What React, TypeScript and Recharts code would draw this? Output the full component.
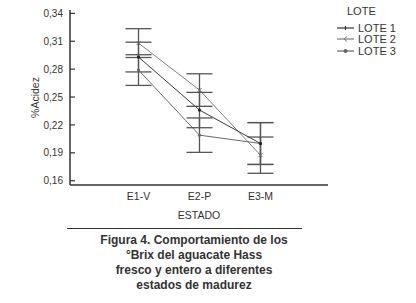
import React from 'react';
import { LineChart, Line, XAxis, YAxis, ErrorBar } from 'recharts';

const categories = ['E1-V', 'E2-P', 'E3-M'];
const lote1 = [0.293, 0.236, 0.2];
const lote2 = [0.308, 0.2575, 0.1875];
const lote3 = [0.279, 0.209, 0.2];
const err1 = [0.016, 0.019, 0.0225];
const err2 = [0.0155, 0.0175, 0.0195];
const err3 = [0.0165, 0.0185, 0.0225];
const yTicks = [0.16, 0.19, 0.22, 0.25, 0.28, 0.31, 0.34];
const captionLines = [
    'Figura 4. Comportamiento de los',
    '°Brix del aguacate Hass',
    'fresco y entero a diferentes',
    'estados de madurez',
];

const data = categories.map((c, i) => ({
    x: i,
    l1: lote1[i],
    l2: lote2[i],
    l3: lote3[i],
    e1: err1[i],
    e2: err2[i],
    e3: err3[i],
}));

const xDomain = [-1.123, 3.107];
const yDomain = [0.1554, 0.3436];
const font = 'Arial, "Liberation Sans", sans-serif';
const axisColor = '#333';

const YTick = (props: any) => {
    const { x, y, payload } = props;
    return (
        <g>
            <line x1={x + 6} x2={x + 11} y1={y} y2={y} stroke={axisColor} strokeWidth={1.2} />
            <text x={x - 1} y={y} dy="0.36em" textAnchor="end" fontSize={10} fill="#333" fontFamily={font}>
                {payload.value.toFixed(2).replace('.', ',')}
            </text>
        </g>
    );
};

const DotPlus = (props: any) => {
    const { cx, cy } = props;
    if (cx == null || cy == null) return null;
    return <circle cx={cx} cy={cy} r={1.6} fill="#222" stroke="none" />;
};

const DotX = (props: any) => {
    const { cx, cy } = props;
    if (cx == null || cy == null) return null;
    return (
        <g stroke="#666" strokeWidth={1}>
            <line x1={cx - 2} x2={cx + 2} y1={cy - 2} y2={cy + 2} />
            <line x1={cx - 2} x2={cx + 2} y1={cy + 2} y2={cy - 2} />
        </g>
    );
};

const DotO = (props: any) => {
    const { cx, cy } = props;
    if (cx == null || cy == null) return null;
    return <circle cx={cx} cy={cy} r={1.6} fill="#666" stroke="none" />;
};

const legendItems = [
    { name: 'LOTE 1', color: '#333', mark: 'dot' },
    { name: 'LOTE 2', color: '#777', mark: 'arrow' },
    { name: 'LOTE 3', color: '#666', mark: 'circle' },
];

export default function App() {
    return (
        <div style={{ position: 'relative', width: 416, height: 303, background: '#fff', fontFamily: font }}>
            <style>{'body{margin:0}'}</style>
            <LineChart width={416} height={240} data={data} margin={{ top: 10, right: 88, bottom: 15, left: 0 }}>
                <XAxis
                    dataKey="x"
                    type="number"
                    domain={xDomain}
                    ticks={[0, 1, 2]}
                    tickFormatter={(v: number) => categories[v]}
                    allowDataOverflow
                    height={40}
                    tickLine={false}
                    tickSize={0}
                    tickMargin={8}
                    stroke={axisColor}
                    strokeWidth={1.5}
                    tick={{ fill: '#333', fontSize: 10.5, fontFamily: font }}
                    label={{ value: 'ESTADO', position: 'insideBottom', offset: 6, fill: '#333', fontSize: 10.5, fontFamily: font }}
                />
                <XAxis
                    xAxisId="top"
                    orientation="top"
                    type="number"
                    domain={xDomain}
                    allowDataOverflow
                    height={0}
                    tick={false}
                    tickLine={false}
                    stroke={axisColor}
                    strokeWidth={1.5}
                />
                <YAxis
                    type="number"
                    domain={yDomain}
                    ticks={yTicks}
                    allowDataOverflow
                    width={70}
                    tickLine={false}
                    tickSize={0}
                    tickMargin={6}
                    stroke={axisColor}
                    strokeWidth={1.5}
                    tick={<YTick />}
                    label={{
                        value: '%Acidez',
                        angle: -90,
                        position: 'insideLeft',
                        offset: 35,
                        fill: '#333',
                        fontSize: 10.5,
                        fontFamily: font,
                        style: { textAnchor: 'middle' },
                    }}
                />
                <YAxis
                    yAxisId="right"
                    orientation="right"
                    type="number"
                    domain={yDomain}
                    ticks={yTicks}
                    allowDataOverflow
                    width={0}
                    mirror
                    tick={false}
                    tickSize={5}
                    stroke={axisColor}
                    strokeWidth={1.2}
                />
                <Line dataKey="l2" stroke="#808080" strokeWidth={1} dot={<DotX />} isAnimationActive={false}>
                    <ErrorBar dataKey="e2" width={13} stroke="#555" strokeWidth={1.3} direction="y" isAnimationActive={false} />
                </Line>
                <Line dataKey="l3" stroke="#6a6a6a" strokeWidth={1} dot={<DotO />} isAnimationActive={false}>
                    <ErrorBar dataKey="e3" width={13} stroke="#555" strokeWidth={1.3} direction="y" isAnimationActive={false} />
                </Line>
                <Line dataKey="l1" stroke="#3a3a3a" strokeWidth={1} dot={<DotPlus />} isAnimationActive={false}>
                    <ErrorBar dataKey="e1" width={13} stroke="#555" strokeWidth={1.3} direction="y" isAnimationActive={false} />
                </Line>
            </LineChart>

            <div style={{ position: 'absolute', left: 347, top: 5, fontSize: 11, color: '#333', lineHeight: '13px' }}>LOTE</div>
            {legendItems.map((it, i) => (
                <div
                    key={it.name}
                    style={{
                        position: 'absolute',
                        left: 337,
                        top: 21.5 + i * 11.7,
                        fontSize: 11,
                        color: '#333',
                        lineHeight: '12px',
                        display: 'flex',
                        alignItems: 'center',
                    }}
                >
                    <svg width={18} height={12} style={{ marginRight: 3 }}>
                        <line x1={0} x2={17} y1={6} y2={6} stroke={it.color} strokeWidth={1.2} />
                        {it.mark === 'dot' && <line x1={8.5} x2={8.5} y1={4} y2={8} stroke={it.color} strokeWidth={1.2} />}
                        {it.mark === 'arrow' && <polyline points="10,3.5 7,6 10,8.5" fill="none" stroke={it.color} strokeWidth={1} />}
                        {it.mark === 'circle' && <circle cx={8.5} cy={6} r={2} fill={it.color} />}
                    </svg>
                    <span>{it.name}</span>
                </div>
            ))}

            <div style={{ position: 'absolute', left: 67, top: 228, width: 235, height: 0, borderTop: '1.5px solid #333' }} />
            <div
                style={{
                    position: 'absolute',
                    left: 94,
                    top: 233,
                    width: 200,
                    textAlign: 'center',
                    fontWeight: 'bold',
                    fontSize: 12,
                    lineHeight: '15px',
                    color: '#333',
                }}
            >
                {captionLines.map((l) => (
                    <div key={l}>{l}</div>
                ))}
            </div>
        </div>
    );
}
